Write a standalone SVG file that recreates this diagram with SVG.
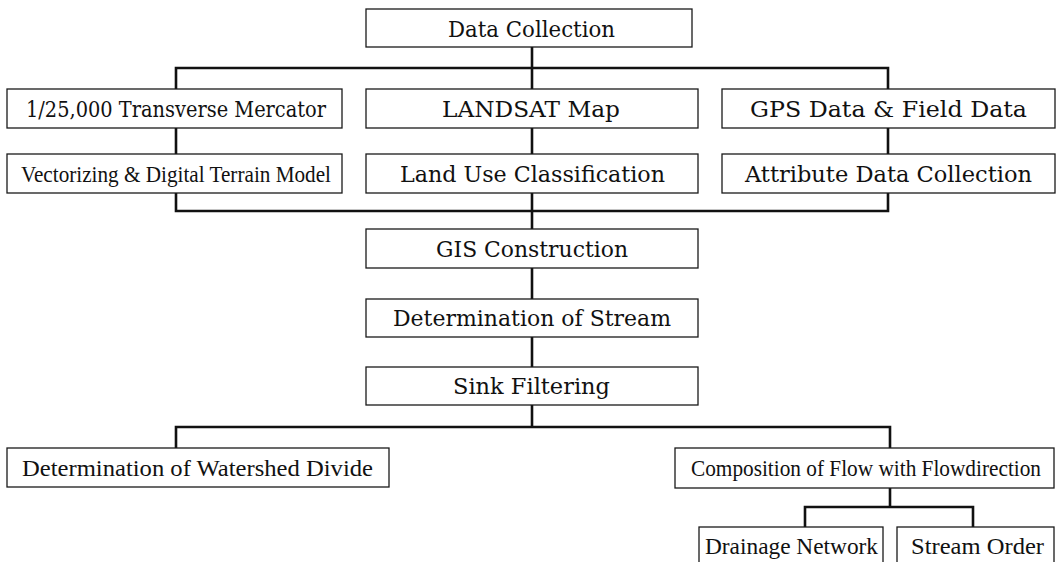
<svg xmlns="http://www.w3.org/2000/svg" width="1061" height="562" viewBox="0 0 1061 562">
  <style>
    .box { fill: #fff; stroke: #1a1a1a; stroke-width: 1.3; }
    .lbl { font-family: "DejaVu Serif", "Liberation Serif", serif; font-size: 23px; fill: #111; }
    .nar { font-family: "Liberation Serif", "DejaVu Serif", serif; font-size: 23px; fill: #111; }
    .wire { fill: none; stroke: #111; stroke-width: 2.6; stroke-linejoin: miter; }
  </style>
  <rect width="1061" height="562" fill="#fff"/>

  <!-- connectors -->
  <g id="connectors" class="wire">
    <!-- Data Collection fan-out -->
    <path d="M532 47 V89"/>
    <path d="M176 89 V68 H888 V89"/>
    <!-- row 1 to row 2 -->
    <path d="M176 128 V154"/>
    <path d="M532 128 V154"/>
    <path d="M888 128 V154"/>
    <!-- row 2 merge into GIS -->
    <path d="M176 193 V211 H888 V193"/>
    <path d="M532 193 V229"/>
    <!-- main chain -->
    <path d="M532 268 V299"/>
    <path d="M532 337 V367"/>
    <path d="M532 405 V427"/>
    <!-- Sink Filtering split -->
    <path d="M176 448 V427 H890 V448"/>
    <!-- Composition split -->
    <path d="M890 488 V507"/>
    <path d="M805 527 V507 H973 V527"/>
  </g>

  <g id="n-data-collection">
    <rect class="box" x="366" y="9" width="326" height="38"/>
    <text class="lbl" x="448" y="37" textLength="167" lengthAdjust="spacingAndGlyphs">Data Collection</text>
  </g>

  <g id="n-tm-map">
    <rect class="box" x="7" y="89" width="335" height="39"/>
    <text class="lbl" x="26" y="117" textLength="300" lengthAdjust="spacingAndGlyphs">1/25,000 Transverse Mercator</text>
  </g>
  <g id="n-landsat">
    <rect class="box" x="366" y="89" width="332" height="39"/>
    <text class="lbl" x="442" y="117" textLength="178" lengthAdjust="spacingAndGlyphs">LANDSAT Map</text>
  </g>
  <g id="n-gps">
    <rect class="box" x="722" y="89" width="333" height="39"/>
    <text class="lbl" x="750" y="117" textLength="277" lengthAdjust="spacingAndGlyphs">GPS Data &amp; Field Data</text>
  </g>

  <g id="n-vectorizing">
    <rect class="box" x="7" y="154" width="335" height="39"/>
    <text class="nar" x="21" y="182" font-size="21" textLength="310" lengthAdjust="spacingAndGlyphs">Vectorizing &amp; Digital Terrain Model</text>
  </g>
  <g id="n-landuse">
    <rect class="box" x="366" y="154" width="332" height="39"/>
    <text class="lbl" x="400" y="182" textLength="265" lengthAdjust="spacingAndGlyphs">Land Use Classification</text>
  </g>
  <g id="n-attribute">
    <rect class="box" x="722" y="154" width="333" height="39"/>
    <text class="lbl" x="745" y="182" textLength="287" lengthAdjust="spacingAndGlyphs">Attribute Data Collection</text>
  </g>

  <g id="n-gis">
    <rect class="box" x="366" y="229" width="332" height="39"/>
    <text class="lbl" x="436" y="257" textLength="192" lengthAdjust="spacingAndGlyphs">GIS Construction</text>
  </g>
  <g id="n-stream">
    <rect class="box" x="366" y="299" width="332" height="38"/>
    <text class="lbl" x="393" y="326" textLength="278" lengthAdjust="spacingAndGlyphs">Determination of Stream</text>
  </g>
  <g id="n-sink">
    <rect class="box" x="366" y="367" width="332" height="38"/>
    <text class="lbl" x="453" y="394" textLength="157" lengthAdjust="spacingAndGlyphs">Sink Filtering</text>
  </g>

  <g id="n-watershed">
    <rect class="box" x="7" y="448" width="382" height="39"/>
    <text class="nar" x="22" y="476" textLength="351" lengthAdjust="spacingAndGlyphs">Determination of Watershed Divide</text>
  </g>
  <g id="n-composition">
    <rect class="box" x="675" y="448" width="379" height="40"/>
    <text class="nar" x="691" y="476" font-size="21" textLength="350" lengthAdjust="spacingAndGlyphs">Composition of Flow with Flowdirection</text>
  </g>

  <g id="n-drainage">
    <rect class="box" x="699" y="527" width="184" height="40"/>
    <text class="nar" x="705" y="554" textLength="173" lengthAdjust="spacingAndGlyphs">Drainage Network</text>
  </g>
  <g id="n-order">
    <rect class="box" x="897" y="527" width="157" height="40"/>
    <text class="nar" x="911" y="554" textLength="133" lengthAdjust="spacingAndGlyphs">Stream Order</text>
  </g>
</svg>
